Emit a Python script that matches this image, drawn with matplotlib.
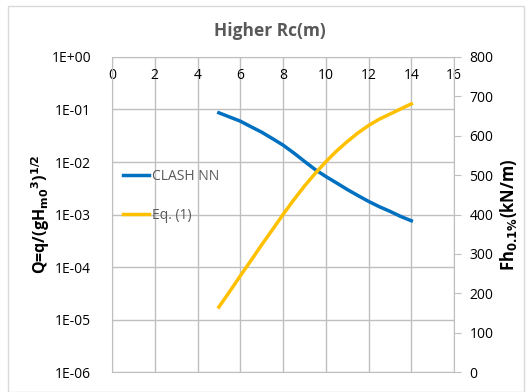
import numpy as np
import matplotlib.pyplot as plt
from matplotlib.patches import Rectangle

plt.rcParams['font.family'] = ['Open Sans', 'DejaVu Sans']

# data
rc = [5, 5.5, 6, 6.5, 7, 7.5, 8, 8.5, 9, 9.5, 10, 10.5, 11, 11.5, 12, 12.5, 13, 13.5, 14]
q_clash = [0.0865, 0.072, 0.060, 0.047, 0.037, 0.028, 0.021, 0.0149, 0.0103, 0.0072,
           0.0053, 0.0040, 0.0030, 0.0023, 0.00178, 0.00141, 0.00115, 0.00092, 0.00076]
fh_eq1 = [165, 204, 244, 283, 323, 361, 400, 437, 472, 504,
          534, 561, 585, 607, 626, 642, 655, 668, 681]

x_ticks = [0, 2, 4, 6, 8, 10, 12, 14, 16]
q_ticks = [1e0, 1e-1, 1e-2, 1e-3, 1e-4, 1e-5, 1e-6]
q_labels = ['1E+00', '1E-01', '1E-02', '1E-03', '1E-04', '1E-05', '1E-06']
fh_ticks = [0, 100, 200, 300, 400, 500, 600, 700, 800]

grey = '#595959'
grid = '#BFBFBF'

fig = plt.figure(figsize=(5.32, 3.92), dpi=100)
fig.patches.append(Rectangle((0.015, 0.0), 0.97, 0.985, transform=fig.transFigure,
                             fill=False, edgecolor='#D9D9D9', lw=1))

ax = fig.add_axes([0.2105, 0.051, 0.643, 0.8036])
ax.set_yscale('log')
ax.set_ylim(1e-6, 1)
ax.set_xlim(0, 16)
ax.set_xticks(x_ticks)
ax.set_yticks(q_ticks)
ax.set_yticklabels(q_labels)
ax.minorticks_off()
ax.grid(True, color=grid, lw=1)
ax.set_axisbelow(True)
for s in ax.spines.values():
    s.set_color(grid)
ax.tick_params(axis='y', length=0, pad=15, labelsize=10, labelcolor='black')
ax.tick_params(axis='x', top=False, bottom=False, labelbottom=False, labeltop=True,
               length=0, pad=-19, labelsize=10, labelcolor='black')
ax.set_ylabel('Q=q/(gH$_{\\mathbf{m0}}$$^{\\mathbf{3}}$)$^{\\mathbf{1/2}}$',
              fontsize=11.5, fontweight='bold', labelpad=0)

l1, = ax.plot(rc, q_clash, color='#0070C0', lw=2.5, label='CLASH NN')

ax2 = ax.twinx()
ax2.set_ylim(0, 800)
ax2.set_yticks(fh_ticks)
for s in ax2.spines.values():
    s.set_visible(False)
ax2.tick_params(axis='y', length=5, color=grid, pad=6, labelsize=10)
ax2.set_ylabel('Fh$_{\\mathbf{0.1\\%}}$(kN/m)', fontsize=12, fontweight='bold', labelpad=3)
l2, = ax2.plot(rc, fh_eq1, color='#FFC000', lw=2.5, label='Eq. (1)')

leg = ax2.legend(handles=[l1, l2], loc='upper left', bbox_to_anchor=(-0.003, 0.685),
                 frameon=False, labelspacing=1.75, handlelength=1.85, handletextpad=0.2,
                 fontsize=10)
for t in leg.get_texts():
    t.set_color(grey)

fig.text(0.508, 0.92, 'Higher Rc(m)', ha='center', va='center', fontsize=12.5,
         fontweight='bold', color=grey)

fig.savefig('out.png', dpi=100)
